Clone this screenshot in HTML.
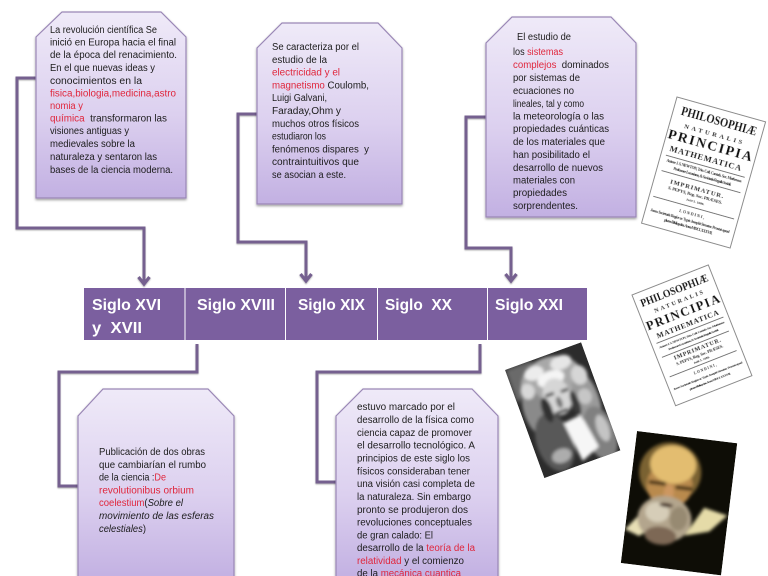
<!DOCTYPE html>
<html lang="es">
<head>
<meta charset="utf-8">
<title>Siglos de la física</title>
<style>
html,body{margin:0;padding:0;background:#fff;}
svg{display:block;}
.t text{font-family:"Liberation Sans",sans-serif;font-size:10px;fill:#1c1c1c;}
.r{fill:#e0263c;}
.b text{font-family:"Liberation Sans",sans-serif;font-size:15.5px;font-weight:bold;fill:#fff;}
.c{fill:none;stroke:#75608f;stroke-width:3;stroke-linejoin:miter;}
.bk text{font-family:"Liberation Serif",serif;fill:#111;text-anchor:middle;font-weight:bold;}
.box{fill:url(#g);stroke:#9a87b6;stroke-width:1.2;}
</style>
</head>
<body>
<svg width="768" height="576" viewBox="0 0 768 576" xmlns="http://www.w3.org/2000/svg">
<defs>
<linearGradient id="g" x1="0" y1="0" x2="0" y2="1">
<stop offset="0" stop-color="#efeaf8"/><stop offset=".55" stop-color="#dcd0ef"/><stop offset="1" stop-color="#c2b0e2"/>
</linearGradient>
<linearGradient id="g5" gradientUnits="userSpaceOnUse" x1="0" y1="389" x2="0" y2="580">
<stop offset="0" stop-color="#efeaf8"/><stop offset=".55" stop-color="#dcd0ef"/><stop offset="1" stop-color="#c2b0e2"/>
</linearGradient>
<filter id="sh" x="-10%" y="-10%" width="120%" height="120%"><feDropShadow dx="0" dy="1.5" stdDeviation="1.2" flood-color="#000" flood-opacity=".38"/></filter>
<filter id="cs" x="-10%" y="-10%" width="120%" height="120%"><feDropShadow dx="0" dy="1" stdDeviation=".8" flood-color="#000" flood-opacity=".3"/></filter>
<filter id="bl3" x="-30%" y="-30%" width="160%" height="160%"><feGaussianBlur stdDeviation="2.500"/></filter>
<filter id="bl1" x="-30%" y="-30%" width="160%" height="160%"><feGaussianBlur stdDeviation="1.500"/></filter>
<filter id="bls" x="-5%" y="-5%" width="110%" height="110%"><feGaussianBlur stdDeviation=".25"/></filter>
<clipPath id="nc"><rect width="81" height="115"/></clipPath>
<clipPath id="gc"><rect width="101" height="133"/></clipPath>
</defs>

<!-- connectors -->
<g filter="url(#cs)">
<path class="c" d="M37 78H17V228H144V282"/>
<path class="c" d="M258 114H238V242H306V279"/>
<path class="c" d="M487 117H466V248H511V279"/>
<path class="c" d="M197 344V372H59V486H79"/>
<path class="c" d="M480 344V372H317V482H337"/>
<g fill="none" stroke="#75608f" stroke-width="3.2">
<path d="M138.500 277L144 284L149.500 277"/>
<path d="M300.500 274L306 281L311.500 274"/>
<path d="M505.500 274L511 281L516.500 274"/>
</g>
</g>

<!-- boxes -->
<polygon class="box" filter="url(#sh)" points="62,12 161,12 186,37 186,198 36,198 36,37"/>
<polygon class="box" filter="url(#sh)" points="282,23 378,23 402,48 402,204 257,204 257,48"/>
<polygon class="box" filter="url(#sh)" points="512,17 611,17 636,43 636,217 486,217 486,43"/>
<polygon class="box" style="fill:url(#g5)" filter="url(#sh)" points="103,389 208,389 234,416 234,600 78,600 78,416"/>
<polygon class="box" style="fill:url(#g5)" filter="url(#sh)" points="363,389 472,389 498,416 498,600 336,600 336,416"/>

<!-- bar -->
<rect x="84" y="288" width="503" height="52" fill="#7b5f9f"/>
<g fill="#fff"><rect x="184.500" y="288" width="1" height="52"/><rect x="285" y="288" width="1" height="52"/><rect x="377" y="288" width="1" height="52"/><rect x="487" y="288" width="1" height="52"/></g>
<g class="b">
<text x="92" y="310" textLength="69" lengthAdjust="spacingAndGlyphs">Siglo XVI</text>
<text x="92" y="333" textLength="50" lengthAdjust="spacingAndGlyphs" xml:space="preserve">y  XVII</text>
<text x="197" y="310" textLength="78" lengthAdjust="spacingAndGlyphs">Siglo XVIII</text>
<text x="298" y="310" textLength="67" lengthAdjust="spacingAndGlyphs">Siglo XIX</text>
<text x="385" y="310" textLength="67" lengthAdjust="spacingAndGlyphs" xml:space="preserve">Siglo  XX</text>
<text x="495" y="310" textLength="68" lengthAdjust="spacingAndGlyphs">Siglo XXI</text>
</g>

<!-- box 1 text -->
<g class="t">
<text x="50" y="33" textLength="107" lengthAdjust="spacingAndGlyphs">La revolución científica Se</text>
<text x="50" y="45.500" textLength="126" lengthAdjust="spacingAndGlyphs">inició en Europa hacia el final</text>
<text x="50" y="58" textLength="127" lengthAdjust="spacingAndGlyphs">de la época del renacimiento.</text>
<text x="50" y="71" textLength="105" lengthAdjust="spacingAndGlyphs">En el que nuevas ideas y</text>
<text x="50" y="84" textLength="92" lengthAdjust="spacingAndGlyphs">conocimientos en la</text>
<text x="50" y="96.500" textLength="126" lengthAdjust="spacingAndGlyphs" style="fill:#e0263c">fisica,biologia,medicina,astro</text>
<text x="50" y="109" textLength="33" lengthAdjust="spacingAndGlyphs"><tspan class="r">nomia y</tspan></text>
<text x="50" y="121.500" textLength="117" lengthAdjust="spacingAndGlyphs" xml:space="preserve"><tspan class="r">química</tspan>  transformaron las</text>
<text x="50" y="134" textLength="79" lengthAdjust="spacingAndGlyphs">visiones antiguas y</text>
<text x="50" y="147" textLength="85" lengthAdjust="spacingAndGlyphs">medievales sobre la</text>
<text x="50" y="160" textLength="107" lengthAdjust="spacingAndGlyphs">naturaleza y sentaron las</text>
<text x="50" y="173" textLength="123" lengthAdjust="spacingAndGlyphs">bases de la ciencia moderna.</text>
</g>

<!-- box 2 text -->
<g class="t">
<text x="272" y="50" textLength="87" lengthAdjust="spacingAndGlyphs">Se caracteriza por el</text>
<text x="272" y="62.800" textLength="55" lengthAdjust="spacingAndGlyphs">estudio de la</text>
<text x="272" y="75.600" textLength="68" lengthAdjust="spacingAndGlyphs"><tspan class="r">electricidad y el</tspan></text>
<text x="272" y="88.400" textLength="97" lengthAdjust="spacingAndGlyphs"><tspan class="r">magnetismo</tspan> Coulomb,</text>
<text x="272" y="101.200" textLength="55" lengthAdjust="spacingAndGlyphs">Luigi Galvani,</text>
<text x="272" y="114" textLength="69" lengthAdjust="spacingAndGlyphs">Faraday,Ohm y</text>
<text x="272" y="126.800" textLength="87" lengthAdjust="spacingAndGlyphs">muchos otros físicos</text>
<text x="272" y="139.600" textLength="54" lengthAdjust="spacingAndGlyphs">estudiaron los</text>
<text x="272" y="152.400" textLength="97" lengthAdjust="spacingAndGlyphs" xml:space="preserve">fenómenos dispares  y</text>
<text x="272" y="165.200" textLength="87" lengthAdjust="spacingAndGlyphs">contraintuitivos que</text>
<text x="272" y="178" textLength="74" lengthAdjust="spacingAndGlyphs">se asocian a este.</text>
</g>

<!-- box 3 text -->
<g class="t">
<text x="517" y="40" textLength="54" lengthAdjust="spacingAndGlyphs">El estudio de</text>
<text x="513" y="55" textLength="50" lengthAdjust="spacingAndGlyphs">los <tspan class="r">sistemas</tspan></text>
<text x="513" y="68" textLength="96" lengthAdjust="spacingAndGlyphs" xml:space="preserve"><tspan class="r">complejos</tspan>  dominados</text>
<text x="513" y="81" textLength="67" lengthAdjust="spacingAndGlyphs">por sistemas de</text>
<text x="513" y="94" textLength="61" lengthAdjust="spacingAndGlyphs">ecuaciones no</text>
<text x="513" y="107" textLength="71" lengthAdjust="spacingAndGlyphs">lineales, tal y como</text>
<text x="513" y="119.500" textLength="91" lengthAdjust="spacingAndGlyphs">la meteorología o las</text>
<text x="513" y="132" textLength="96" lengthAdjust="spacingAndGlyphs">propiedades cuánticas</text>
<text x="513" y="145" textLength="92" lengthAdjust="spacingAndGlyphs">de los materiales que</text>
<text x="513" y="158" textLength="77" lengthAdjust="spacingAndGlyphs">han posibilitado el</text>
<text x="513" y="171" textLength="90" lengthAdjust="spacingAndGlyphs">desarrollo de nuevos</text>
<text x="513" y="183.500" textLength="62" lengthAdjust="spacingAndGlyphs">materiales con</text>
<text x="513" y="196" textLength="54" lengthAdjust="spacingAndGlyphs">propiedades</text>
<text x="513" y="209" textLength="65" lengthAdjust="spacingAndGlyphs">sorprendentes.</text>
</g>

<!-- box 4 text -->
<g class="t">
<text x="99" y="455" textLength="106" lengthAdjust="spacingAndGlyphs">Publicación de dos obras</text>
<text x="99" y="468" textLength="107" lengthAdjust="spacingAndGlyphs">que cambiarían el rumbo</text>
<text x="99" y="480.500" textLength="67" lengthAdjust="spacingAndGlyphs">de la ciencia :<tspan class="r">De</tspan></text>
<text x="99" y="493.500" textLength="95" lengthAdjust="spacingAndGlyphs"><tspan class="r">revolutionibus orbium</tspan></text>
<text x="99" y="506" textLength="84" lengthAdjust="spacingAndGlyphs"><tspan class="r">coelestium</tspan>(<tspan font-style="italic">Sobre el</tspan></text>
<text x="99" y="519" textLength="115" lengthAdjust="spacingAndGlyphs" font-style="italic">movimiento de las esferas</text>
<text x="99" y="532" textLength="47" lengthAdjust="spacingAndGlyphs"><tspan font-style="italic">celestiales</tspan>)</text>
</g>

<!-- box 5 text -->
<g class="t">
<text x="357" y="410" textLength="98" lengthAdjust="spacingAndGlyphs">estuvo marcado por el</text>
<text x="357" y="423" textLength="117" lengthAdjust="spacingAndGlyphs">desarrollo de la física como</text>
<text x="357" y="436" textLength="115" lengthAdjust="spacingAndGlyphs">ciencia capaz de promover</text>
<text x="357" y="448.500" textLength="118" lengthAdjust="spacingAndGlyphs">el desarrollo tecnológico. A</text>
<text x="357" y="461.500" textLength="113" lengthAdjust="spacingAndGlyphs">principios de este siglo los</text>
<text x="357" y="474.500" textLength="113" lengthAdjust="spacingAndGlyphs">físicos consideraban tener</text>
<text x="357" y="487" textLength="118" lengthAdjust="spacingAndGlyphs">una visión casi completa de</text>
<text x="357" y="500" textLength="114" lengthAdjust="spacingAndGlyphs">la naturaleza. Sin embargo</text>
<text x="357" y="513" textLength="111" lengthAdjust="spacingAndGlyphs">pronto se produjeron dos</text>
<text x="357" y="525.500" textLength="115" lengthAdjust="spacingAndGlyphs">revoluciones conceptuales</text>
<text x="357" y="538.500" textLength="76" lengthAdjust="spacingAndGlyphs">de gran calado: El</text>
<text x="357" y="551" textLength="118" lengthAdjust="spacingAndGlyphs">desarrollo de la <tspan class="r">teoría de la</tspan></text>
<text x="357" y="564" textLength="107" lengthAdjust="spacingAndGlyphs"><tspan class="r">relatividad</tspan> y el comienzo</text>
<text x="357" y="576.500" textLength="104" lengthAdjust="spacingAndGlyphs">de la <tspan class="r">mecánica cuantica</tspan></text>
</g>

<!-- book 1 -->
<g class="bk" transform="translate(677 97) rotate(15.7)" filter="url(#bls)">
<rect width="92" height="131" fill="#fff" stroke="#8a8a8a" stroke-width="1"/>
<text x="47" y="16" font-size="13" textLength="78" lengthAdjust="spacingAndGlyphs">PHILOSOPHIÆ</text>
<text x="45" y="28" font-size="6.500" textLength="60">NATURALIS</text>
<text x="45" y="42" font-size="14" textLength="87">PRINCIPIA</text>
<text x="44" y="54" font-size="8.500" textLength="74">MATHEMATICA</text>
<path d="M5 59H87M5 75H87M4 102H88" stroke="#444" stroke-width=".8"/>
<text x="46" y="65" font-size="3.800" textLength="78">Autore J. S. NEWTON, Trin. Coll. Cantab. Soc. Matheseos</text>
<text x="46" y="71" font-size="3.800" textLength="60">Professore Lucasiano, &amp; Societatis Regalis Sodali.</text>
<text x="44" y="85" font-size="6.500" textLength="55">IMPRIMATUR.</text>
<text x="44" y="91" font-size="4.500" textLength="56">S. PEPYS, Reg. Soc. PRÆSES.</text>
<text x="46" y="97" font-size="3.500">Julii 5. 1686.</text>
<text x="46" y="110" font-size="4" textLength="26">LONDINI,</text>
<text x="46" y="117" font-size="3.800" textLength="82">Jussu Societatis Regiæ ac Typis Josephi Streater. Prostat apud</text>
<text x="46" y="123" font-size="3.800" textLength="50">plures Bibliopolas. Anno MDCLXXXVII.</text>
</g>

<!-- book 2 -->
<g class="bk" transform="translate(632 295) rotate(-21.500)" filter="url(#bls)">
<rect width="82" height="119" fill="#fff" stroke="#8a8a8a" stroke-width="1"/>
<text x="41" y="15" font-size="12" textLength="72" lengthAdjust="spacingAndGlyphs">PHILOSOPHIÆ</text>
<text x="41" y="25" font-size="6" textLength="52">NATURALIS</text>
<text x="41" y="39" font-size="12.500" textLength="78">PRINCIPIA</text>
<text x="41" y="50" font-size="7.500" textLength="66">MATHEMATICA</text>
<path d="M5 54H77M5 69H77M5 90H77" stroke="#444" stroke-width=".8"/>
<text x="41" y="60" font-size="3.500" textLength="70">Autore J. S. NEWTON, Trin. Coll. Cantab. Soc. Matheseos</text>
<text x="41" y="65" font-size="3.500" textLength="54">Professore Lucasiano, &amp; Societatis Regalis Sodali.</text>
<text x="41" y="76" font-size="6" textLength="50">IMPRIMATUR.</text>
<text x="41" y="82" font-size="4" textLength="50">S. PEPYS, Reg. Soc. PRÆSES.</text>
<text x="41" y="87" font-size="3.200">Julii 5. 1686.</text>
<text x="41" y="97" font-size="3.600" textLength="24">LONDINI,</text>
<text x="41" y="104" font-size="3.500" textLength="74">Jussu Societatis Regiæ ac Typis Josephi Streater. Prostat apud</text>
<text x="41" y="110" font-size="3.500" textLength="44">plures Bibliopolas. Anno MDCLXXXVII.</text>
</g>

<!-- Newton portrait -->
<g transform="translate(505 370) rotate(-20)">
<g clip-path="url(#nc)">
<rect width="81" height="115" fill="#2c2c2c"/>
<rect x="0" y="0" width="28" height="34" fill="#6a6a6a" filter="url(#bl3)"/>
<g filter="url(#bl1)">
<ellipse cx="40" cy="28" rx="32" ry="26" fill="#a8a8a8"/>
<ellipse cx="14" cy="50" rx="11" ry="24" fill="#8a8a8a"/>
<ellipse cx="67" cy="55" rx="12" ry="28" fill="#9a9a9a"/>
<ellipse cx="22" cy="85" rx="18" ry="30" fill="#585858"/>
<ellipse cx="68" cy="92" rx="15" ry="28" fill="#808080"/>
<ellipse cx="26" cy="13" rx="10" ry="7" fill="#ececec"/>
<ellipse cx="55" cy="12" rx="11" ry="7" fill="#e6e6e6"/>
<ellipse cx="14" cy="28" rx="7" ry="8" fill="#d8d8d8"/>
<ellipse cx="68" cy="30" rx="8" ry="10" fill="#d6d6d6"/>
<ellipse cx="66" cy="52" rx="7" ry="8" fill="#c6c6c6"/>
<ellipse cx="72" cy="88" rx="6" ry="14" fill="#c4c4c4"/>
<ellipse cx="24" cy="100" rx="10" ry="7" fill="#adadad"/>
<ellipse cx="40" cy="24" rx="14" ry="8" fill="#f5f5f5"/>
<ellipse cx="40" cy="43" rx="14" ry="19" fill="#d6d6d6"/>
<rect x="29" y="37" width="9" height="3" fill="#2a2a2a"/><rect x="45" y="38" width="8" height="3" fill="#2a2a2a"/>
<ellipse cx="40" cy="49" rx="3" ry="6" fill="#777"/>
<rect x="33" y="57" width="13" height="3" fill="#1c1c1c"/>
<ellipse cx="26" cy="52" rx="5" ry="13" fill="#303030"/>
<ellipse cx="55" cy="55" rx="4" ry="13" fill="#3a3a3a"/>
<polygon points="37,70 56,68 62,104 42,112" fill="#f6f6f6"/>
</g>
</g>
</g>

<!-- Galileo portrait -->
<g transform="translate(637 431) rotate(7)">
<g clip-path="url(#gc)">
<rect width="101" height="133" fill="#0e0d06"/>
<g filter="url(#bl1)">
<ellipse cx="38" cy="37" rx="31" ry="30" fill="#7a6230"/>
<ellipse cx="39" cy="50" rx="23" ry="22" fill="#b98a4e"/>
<ellipse cx="40" cy="29" rx="23" ry="19" fill="#e3bd70"/>
<rect x="18" y="47" width="17" height="4" fill="#4a3518"/>
<rect x="45" y="49" width="17" height="4" fill="#4a3518"/>
<ellipse cx="39" cy="58" rx="5" ry="9" fill="#cd9760"/>
<polygon points="0,99 20,73 26,94 15,104" fill="#e8dfb5"/>
<polygon points="60,98 76,68 100,73 84,91" fill="#e5dba8"/>
<ellipse cx="38" cy="84" rx="27" ry="23" fill="#b3a58d"/>
<ellipse cx="30" cy="78" rx="12" ry="10" fill="#d6cdb8"/>
<ellipse cx="52" cy="82" rx="9" ry="12" fill="#978a72"/>
<ellipse cx="36" cy="101" rx="16" ry="9" fill="#7d6855"/>
<ellipse cx="38" cy="70" rx="7" ry="2" fill="#3a2415"/>
</g>
</g>
</g>
</svg>
</body>
</html>
